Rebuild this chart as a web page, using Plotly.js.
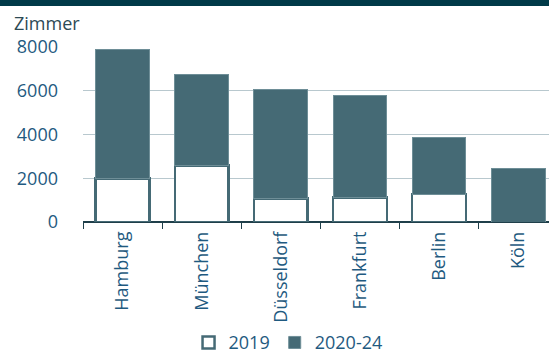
<!DOCTYPE html>
<html>
<head>
<meta charset="utf-8">
<script src="https://cdn.plot.ly/plotly-3.0.1.min.js"></script>
<style>
html,body{margin:0;padding:0;background:#fff;}
#topband{position:absolute;left:0;top:0;width:549px;height:6px;background:#003a48;}
#chart{position:absolute;left:0;top:0;width:549px;height:353px;}
</style>
</head>
<body>
<div id="chart"></div>
<div id="topband"></div>
<script>
const cities = ["Hamburg", "München", "Düsseldorf", "Frankfurt", "Berlin", "Köln"];
const v2019 = [1990, 2590, 1070, 1130, 1280, 0];
const v2020_24 = [5880, 4150, 4980, 4650, 2570, 2430];
const yTicks = [0, 2000, 4000, 6000, 8000];

const blue = "#1f5a80";
const teal = "#456a75";

const traces = [
  {
    type: "bar", name: "2019", x: cities, y: v2019,
    marker: {color: "#ffffff", line: {color: teal, width: 2.5}},
    hoverinfo: "skip"
  },
  {
    type: "bar", name: "2020-24", x: cities, y: v2020_24,
    marker: {color: teal, line: {color: "#6e8e97", width: 1}},
    hoverinfo: "skip"
  }
];

const layout = {
  width: 549, height: 353,
  margin: {l: 83, r: 0, t: 47, b: 131, pad: 0, autoexpand: false},
  barmode: "stack",
  bargap: 0.32,
  paper_bgcolor: "#ffffff",
  plot_bgcolor: "#ffffff",
  font: {family: "Open Sans, sans-serif", color: blue, size: 18},
  showlegend: true,
  legend: {
    orientation: "h", x: 0.44, xanchor: "center", y: -0.69, yanchor: "middle",
    font: {size: 18, color: blue}, itemwidth: 30, traceorder: "normal"
  },
  xaxis: {
    type: "category",
    range: [-0.5, 5.39],
    tickangle: -90,
    ticks: "outside", ticklen: 6, tickcolor: "#1f3f4a", tickwidth: 1,
    tickson: "boundaries",
    ticklabelstandoff: 5,
    showline: false,
    tickfont: {size: 18, color: blue},
    showgrid: false, zeroline: false, automargin: false
  },
  yaxis: {
    range: [0, 8000],
    tickvals: yTicks,
    ticktext: yTicks.map(String),
    tickfont: {size: 18, color: blue},
    showgrid: true, gridcolor: "#b8c8ce", gridwidth: 1,
    zeroline: true, zerolinecolor: "#1f3f4a", zerolinewidth: 1.5,
    ticks: "", ticklabelstandoff: 24, automargin: false
  },
  annotations: [
    {text: "Zimmer", xref: "paper", yref: "paper", x: -83/466, y: 1, xanchor: "left", yanchor: "bottom",
     yshift: 10, xshift: 12, showarrow: false, font: {size: 18, color: "#2d4a55"}}
  ]
};

Plotly.newPlot("chart", traces, layout, {displayModeBar: false, staticPlot: true});
</script>
</body>
</html>
